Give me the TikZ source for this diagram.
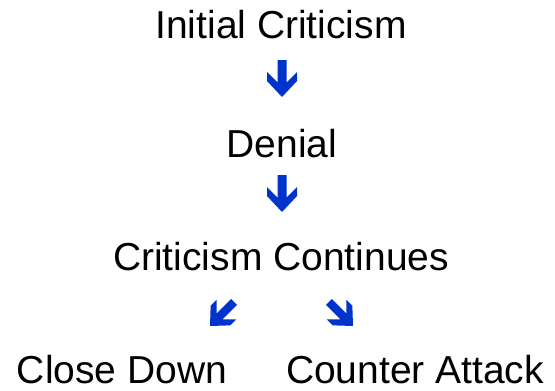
\documentclass[tikz,border=0pt]{standalone}
\usepackage{fontspec}
\setmainfont{Liberation Sans}
\definecolor{arrowblue}{RGB}{0,51,204}
\begin{document}
\begin{tikzpicture}[x=1pt,y=1pt,
  label/.style={inner sep=0pt, anchor=base, font=\fontsize{39}{46}\selectfont},
  fatarrow/.pic={
    \fill[arrowblue] (0,0) -- (-15,16) -- (-15,25) -- (-4.5,14.5) -- (-4.5,37)
      -- (4.5,37) -- (4.5,14.5) -- (15,25) -- (15,16) -- cycle;
  }]
\useasboundingbox (0,0) rectangle (555,-391);
\node[label] (init) at (281,-38) {Initial Criticism};
\node[label] (denial) at (282,-157) {Denial};
\node[label] (cont) at (281,-270) {Criticism Continues};
\node[label] (close) at (122,-383) {Close Down};
\node[label] (counter) at (415,-383) {Counter Attack};
\pic at (282,-97) {fatarrow};
\pic at (282,-212) {fatarrow};
\pic[rotate=-45, scale=0.92] at (210,-326) {fatarrow};
\pic[rotate=45, scale=0.92] at (353,-326) {fatarrow};
\end{tikzpicture}
\end{document}
